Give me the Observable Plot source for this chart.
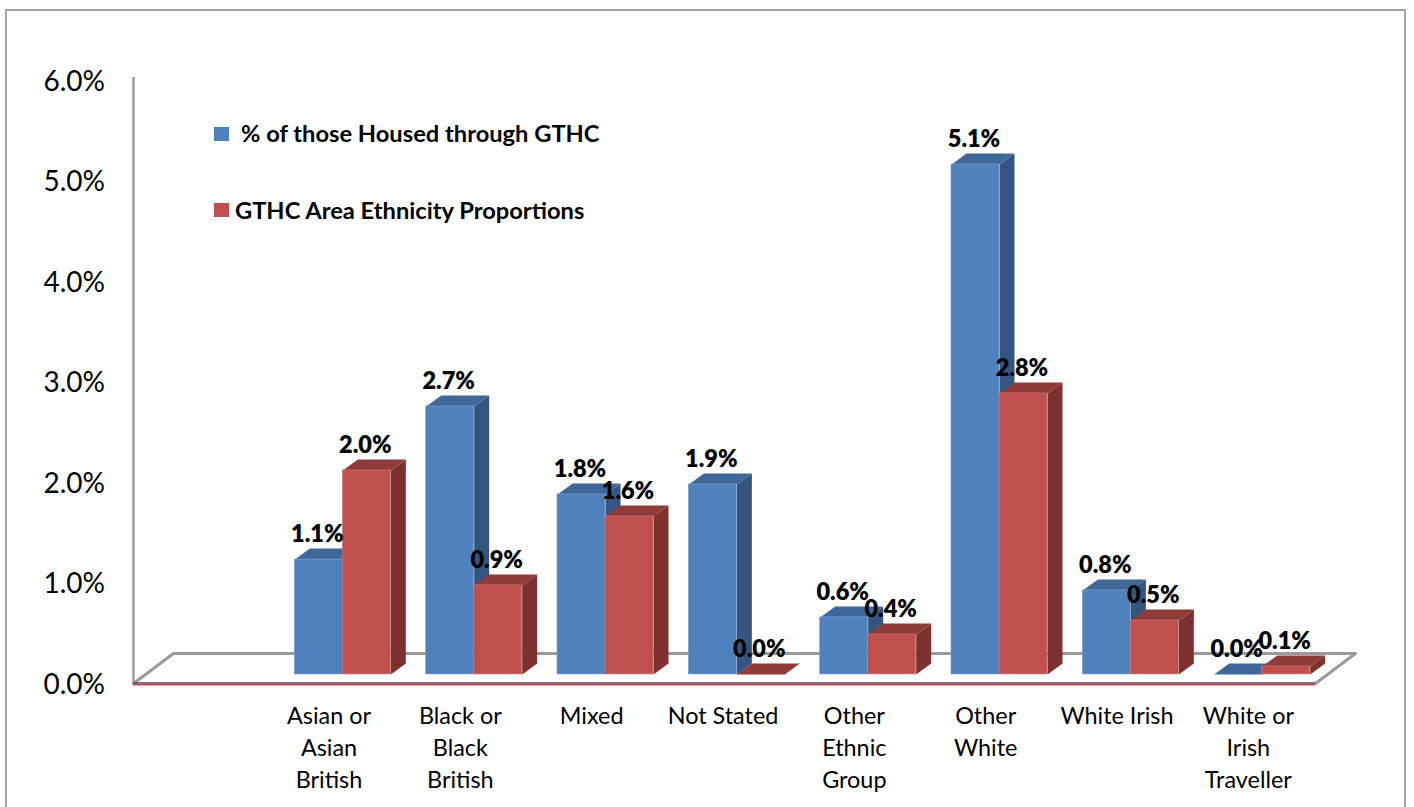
<!DOCTYPE html>
<html>
<head>
<meta charset="utf-8">
<script src="https://cdn.jsdelivr.net/npm/d3@7"></script>
<script src="https://cdn.jsdelivr.net/npm/@observablehq/plot@0.6"></script>
<style>
html,body{margin:0;padding:0;background:#fff;overflow:hidden}
#wrap{position:relative;width:1414px;height:807px;overflow:hidden;font-family:Lato,sans-serif}
#frame{position:absolute;left:5px;top:9px;width:1401px;height:830px;border:2px solid #a3a3a3;box-sizing:border-box}
#wrap svg{position:absolute;left:0;top:0}
.lg{position:absolute;font-weight:700;font-size:23.7px;color:#000;white-space:nowrap;line-height:28px}
.sw{position:absolute;width:15px;height:14px}
</style>
</head>
<body>
<div id="wrap"><div id="frame"></div></div>
<script>
const categories = ["", "Asian or\nAsian\nBritish", "Black or\nBlack\nBritish", "Mixed", "Not Stated",
  "Other\nEthnic\nGroup", "Other\nWhite", "White Irish", "White or\nIrish\nTraveller"];
const housed = [null, 1.149, 2.68, 1.80, 1.90, 0.57, 5.10, 0.84, 0.00];
const area   = [null, 2.04, 0.89, 1.58, 0.00, 0.40, 2.81, 0.54, 0.08];
const tickValues = [0, 1, 2, 3, 4, 5, 6];
const legendLabels = ["% of those Housed through GTHC", "GTHC Area Ethnicity Proportions"];

const colors = {
  housed: {front: "#4F81BD", top: "#3F6797", side: "#34557F", edge: "#7F9FCB"},
  area:   {front: "#C0504D", top: "#8E3B39", side: "#7D3230", edge: "#C77C7C"}
};

// layout in scale units (x: category slots, y: percent)
const slotOffset = 0.2285, barW = 0.3655, depthX = 0.1142, depthY = 0.11;
const floorX = 0.3046, floorY = 0.298, baseY = 0.09, hScale = 0.995;

function bars(values, s) {
  const k = s === 0 ? "housed" : "area";
  const rows = values.map((v, i) => v == null ? null : ({
    i, v, k,
    x1: i + slotOffset + s * barW,
    x2: i + slotOffset + (s + 1) * barW,
    y1: baseY,
    y2: baseY + v * hScale
  })).filter(Boolean);
  const top = rows.flatMap(r => [
    {z: r.i, x: r.x1, y: r.y2}, {z: r.i, x: r.x2, y: r.y2},
    {z: r.i, x: r.x2 + depthX, y: r.y2 + depthY}, {z: r.i, x: r.x1 + depthX, y: r.y2 + depthY}
  ]);
  const side = rows.filter(r => r.v > 0).flatMap(r => [
    {z: r.i, x: r.x2, y: r.y1}, {z: r.i, x: r.x2, y: r.y2},
    {z: r.i, x: r.x2 + depthX, y: r.y2 + depthY}, {z: r.i, x: r.x2 + depthX, y: r.y1 + depthY}
  ]);
  const c = colors[k];
  return {rows, marks: [
    Plot.line(side, {x: "x", y: "y", z: "z", fill: c.side, stroke: null}),
    Plot.line(top, {x: "x", y: "y", z: "z", fill: c.top, stroke: null}),
    Plot.rect(rows.filter(r => r.v > 0), {x1: "x1", x2: "x2", y1: "y1", y2: "y2", fill: c.front, stroke: c.edge, strokeWidth: 0.7})
  ]};
}

const a = bars(housed, 0), b = bars(area, 1);
const nSlots = categories.length;
const floorPath = [
  {x: 0, y: 0}, {x: floorX, y: floorY}, {x: nSlots + floorX, y: floorY}, {x: nSlots, y: 0}
];

const chart = Plot.plot({
  width: 1414, height: 807,
  marginLeft: 133, marginRight: 99, marginTop: 80, marginBottom: 124,
  x: {domain: [0, nSlots], axis: null},
  y: {domain: [0, 6], axis: null},
  style: {fontFamily: "Lato, sans-serif", background: "transparent", overflow: "visible"},
  marks: [
    Plot.ruleX([0], {y1: 0, y2: 6.03, stroke: "#9a9a9e", strokeWidth: 2.5}),
    Plot.line(floorPath, {x: "x", y: "y", stroke: "#9a9a9e", strokeWidth: 3, clip: false}),
    Plot.ruleY([0], {x1: 0, x2: nSlots, stroke: "#3b4a78", strokeWidth: 1.5, dy: -0.5}),
    Plot.ruleY([0], {x1: 0, x2: nSlots, stroke: "#C0504D", strokeWidth: 2, dy: 1}),
    ...a.marks, ...b.marks,
    Plot.axisY({ticks: tickValues, tickSize: 0, tickPadding: 28, tickFormat: d => d.toFixed(1) + "%",
      fontSize: 28, fill: "#000", anchor: "left", label: null, dy: 1.5, dx: -0.5}),
    Plot.text(categories.map((c, i) => ({c, i})).filter(d => d.c), {
      x: d => d.i + 0.5, y: 0, text: "c", dx: -1.5, dy: 18, lineAnchor: "top", lineHeight: 1.36,
      fontSize: 23.4, fill: "#000"
    }),
    Plot.text([...a.rows, ...b.rows], {
      x: d => (d.x1 + d.x2) / 2, y: "y2", text: d => d.v.toFixed(1) + "%", dx: -1.5, dy: -25,
      fontSize: 23.5, fontWeight: 800, fill: "#000"
    })
  ]
});
const wrap = document.getElementById("wrap");
wrap.appendChild(chart);

[[214, 127, 241, 119, colors.housed.front, 0], [214, 203, 235, 196, colors.area.front, 1]].forEach(([sx, sy, tx, ty, col, i]) => {
  const s = document.createElement("div");
  s.className = "sw"; s.style.cssText = `left:${sx}px;top:${sy}px;background:${col}`;
  const t = document.createElement("div");
  t.className = "lg"; t.style.cssText = `left:${tx}px;top:${ty}px`;
  t.textContent = legendLabels[i];
  wrap.append(s, t);
});
</script>
</body>
</html>
